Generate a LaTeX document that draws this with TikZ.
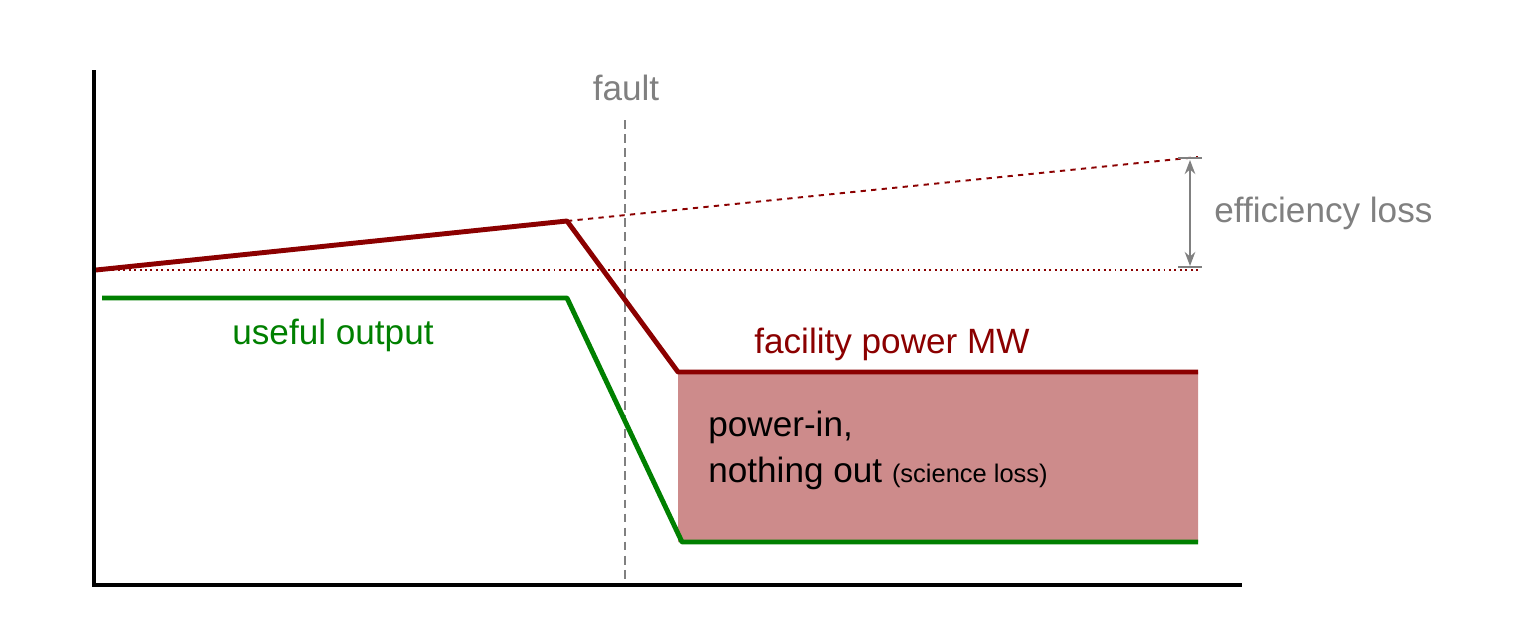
\documentclass[tikz,border=0pt]{standalone}
\usepackage{fontspec}
\setmainfont{Liberation Sans}
\usetikzlibrary{arrows.meta, positioning}
\definecolor{powerred}{RGB}{139,0,0}
\definecolor{outgreen}{RGB}{0,128,0}
\definecolor{lossfill}{RGB}{205,139,139}
\definecolor{faultgray}{RGB}{128,128,128}

\begin{document}
\begin{tikzpicture}[
    x=0.02cm, y=-0.02cm,
    axis/.style={line width=2.8pt, black},
    power/.style={line width=2.8pt, powerred, line join=round},
    useful/.style={line width=2.8pt, outgreen, line join=round},
    label/.style={font=\fontsize{20}{24}\selectfont, inner sep=0pt}
]
\useasboundingbox (0,0) rectangle (1519,629);

% Coordinates
\coordinate (origin) at (94,585);
\coordinate (ptop) at (96,270);
\coordinate (ppeak) at (567,221);
\coordinate (plow) at (678,372);
\coordinate (pend) at (1198,372);
\coordinate (gstart) at (102,298);
\coordinate (gknee) at (567,298);
\coordinate (glow) at (682,542);
\coordinate (gend) at (1198,542);

% Science loss area
\fill[lossfill] (plow) -- (pend) -- (gend) -- (glow) -- (678,542) -- cycle;

% Fault marker
\draw[faultgray, line width=1.2pt, dash pattern=on 5pt off 3pt] (625,120) -- (625,585);
\node[label, text=faultgray] (fault) at (626,88) {fault};

% Reference lines
\draw[powerred, line width=1.1pt, dashed] (ppeak) -- (1198,157);
\draw[powerred, line width=1.1pt, dotted] (ptop) -- (1198,270);

% Curves
\draw[power] (ptop) -- (ppeak) -- (plow) -- (pend);
\draw[useful] (gstart) -- (gknee) -- (glow) -- (gend);

% Axes
\draw[axis] (94,70) -- (origin) -- (1242,585);

% Efficiency loss arrow
\coordinate (etop) at (1190,160);
\coordinate (ebot) at (1190,266);
\draw[faultgray, line width=1.2pt, {Stealth[length=8pt]}-{Stealth[length=8pt]}] (etop) -- (ebot);
\draw[faultgray, line width=1pt] (1178,158) -- (1202,158) (1178,267) -- (1202,267);
\node[label, text=faultgray, anchor=west] (effloss) at (1214,213) {efficiency loss};

% Labels
\node[label, text=outgreen] (usefullbl) at (333,335) {useful output};
\node[label, text=powerred] (powerlbl) at (892,344) {facility power MW};
\node[label, anchor=west] (powerin) at (708,427) {power-in,};
\node[label, anchor=west] (nothing) at (708,473) {nothing out \fontsize{14.5}{17}\selectfont(science loss)};

\end{tikzpicture}
\end{document}
